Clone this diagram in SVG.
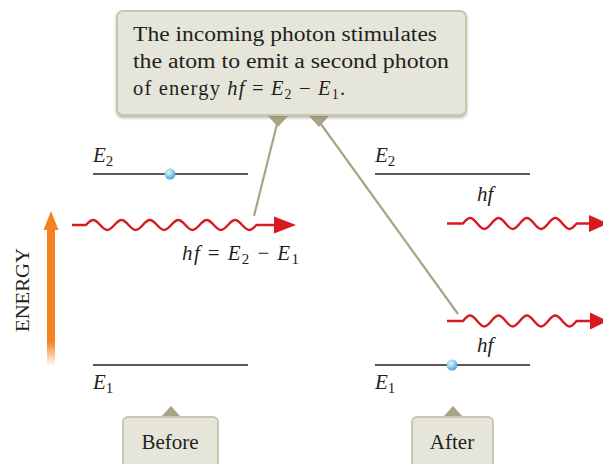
<svg xmlns="http://www.w3.org/2000/svg" width="603" height="464" viewBox="0 0 603 464">
<defs>
<style>
.t{font-family:"Liberation Serif","Times New Roman",serif;fill:#231f20}
.i{font-style:italic}
.lvl{stroke:#231f20;stroke-width:1.3}
.wave{fill:none;stroke:#d71920;stroke-width:2.4;stroke-linejoin:round}
.head{fill:#d71920}
.lead{stroke:#a8a585;stroke-width:2.2;fill:none}
.box{fill:#e6e5da;stroke:#c8c6ae;stroke-width:2}
.tail{fill:#a8a585}
</style>
<radialGradient id="dot" cx="0.4" cy="0.35" r="0.7">
<stop offset="0" stop-color="#e4f5fd"/>
<stop offset="0.5" stop-color="#8fd0ee"/>
<stop offset="1" stop-color="#3e9ccc"/>
</radialGradient>
<linearGradient id="en" x1="0" y1="1" x2="0" y2="0">
<stop offset="0" stop-color="#f58220" stop-opacity="0"/>
<stop offset="0.18" stop-color="#f58220" stop-opacity="1"/>
<stop offset="1" stop-color="#f58220"/>
</linearGradient>
<filter id="sh" x="-5%" y="-5%" width="110%" height="120%">
<feDropShadow dx="0" dy="2" stdDeviation="1.5" flood-color="#8a8870" flood-opacity="0.6"/>
</filter>
</defs>

<g id="energy-axis">
<rect x="47" y="228" width="8" height="138" fill="url(#en)"/>
<polygon points="43.5,230 51,211 58.5,230" fill="#f58220"/>
<text class="t" x="0" y="0" font-size="18.5" transform="translate(29,290) rotate(-90)" text-anchor="middle" textLength="84" lengthAdjust="spacingAndGlyphs">ENERGY</text>
</g>

<g id="connectors">
<line class="lead" x1="278" y1="120" x2="254" y2="216"/>
<line class="lead" x1="318" y1="120" x2="458" y2="314"/>
</g>

<g id="callout">
<polygon class="tail" points="268,116 288,116 278,127"/>
<polygon class="tail" points="309,116 329,116 319,127"/>
<rect class="box" x="117" y="11" width="349" height="104" rx="6" filter="url(#sh)"/>
<text class="t" font-size="20.5"><tspan x="133" y="41" textLength="304" lengthAdjust="spacingAndGlyphs">The incoming photon stimulates</tspan><tspan x="133" y="68" textLength="316" lengthAdjust="spacingAndGlyphs">the atom to emit a second photon</tspan></text>
<text class="t" font-size="20.5" x="133" y="95" textLength="212" lengthAdjust="spacing">of energy <tspan class="i">hf</tspan> = <tspan class="i">E</tspan><tspan font-size="14" dy="4">2</tspan><tspan dy="-4"> − </tspan><tspan class="i">E</tspan><tspan font-size="14" dy="4">1</tspan><tspan dy="-4">.</tspan></text>
</g>

<g id="before-state">
<line class="lvl" x1="93" y1="174" x2="248" y2="174"/>
<text class="t i" x="93" y="162" font-size="21">E<tspan font-size="15" dy="4" font-style="normal">2</tspan></text>
<circle cx="170" cy="174" r="5.5" fill="url(#dot)"/>
<line class="lvl" x1="93" y1="365" x2="248" y2="365"/>
<text class="t i" x="93" y="389" font-size="21">E<tspan font-size="15" dy="4" font-style="normal">1</tspan></text>
</g>

<g id="incoming-photon">
<path class="wave" d="M72,225 L86,225 c6.03,-6.67 8.17,-6.67 14.2,0 s8.17,6.67 14.2,0 s8.17,-6.67 14.2,0 s8.17,6.67 14.2,0 s8.17,-6.67 14.2,0 s8.17,6.67 14.2,0 s8.17,-6.67 14.2,0 s8.17,6.67 14.2,0 s8.17,-6.67 14.2,0 s8.17,6.67 14.2,0 s8.17,-6.67 14.2,0 s8.17,6.67 14.2,0 L278,225"/>
<polygon class="head" points="274,216.5 296,225 274,233.5"/>
<text class="t" x="182" y="260" font-size="21" textLength="117" lengthAdjust="spacing"><tspan class="i">hf</tspan> = <tspan class="i">E</tspan><tspan font-size="15" dy="4">2</tspan><tspan dy="-4"> − </tspan><tspan class="i">E</tspan><tspan font-size="15" dy="4">1</tspan></text>
</g>

<g id="after-state">
<line class="lvl" x1="375" y1="174" x2="530" y2="174"/>
<text class="t i" x="375" y="162" font-size="21">E<tspan font-size="15" dy="4" font-style="normal">2</tspan></text>
<line class="lvl" x1="375" y1="365" x2="530" y2="365"/>
<circle cx="452" cy="365" r="5.5" fill="url(#dot)"/>
<text class="t i" x="375" y="389" font-size="21">E<tspan font-size="15" dy="4" font-style="normal">1</tspan></text>
</g>

<g id="outgoing-photon-1">
<path class="wave" d="M447,223.5 L463,223.5 c6.03,-7.33 8.17,-7.33 14.2,0 s8.17,7.33 14.2,0 s8.17,-7.33 14.2,0 s8.17,7.33 14.2,0 s8.17,-7.33 14.2,0 s8.17,7.33 14.2,0 s8.17,-7.33 14.2,0 s8.17,7.33 14.2,0 L594,223.5"/>
<polygon class="head" points="589,215 608,223.5 589,232"/>
<text class="t i" x="477" y="201" font-size="21">hf</text>
</g>

<g id="outgoing-photon-2">
<path class="wave" d="M447,321 L463,321 c6.03,-7.33 8.17,-7.33 14.2,0 s8.17,7.33 14.2,0 s8.17,-7.33 14.2,0 s8.17,7.33 14.2,0 s8.17,-7.33 14.2,0 s8.17,7.33 14.2,0 s8.17,-7.33 14.2,0 s8.17,7.33 14.2,0 L594,321"/>
<polygon class="head" points="590,312.5 608,321 590,329.5"/>
<text class="t i" x="477" y="352" font-size="21">hf</text>
</g>

<g id="before-label">
<polygon class="tail" points="161,417 171,406 181,417"/>
<rect class="box" x="123" y="417" width="95" height="52" rx="5"/>
<text class="t" x="170" y="449" font-size="21" text-anchor="middle">Before</text>
</g>

<g id="after-label">
<polygon class="tail" points="443,417 453,406 463,417"/>
<rect class="box" x="412" y="417" width="81" height="52" rx="5"/>
<text class="t" x="452" y="449" font-size="21" text-anchor="middle">After</text>
</g>
</svg>
